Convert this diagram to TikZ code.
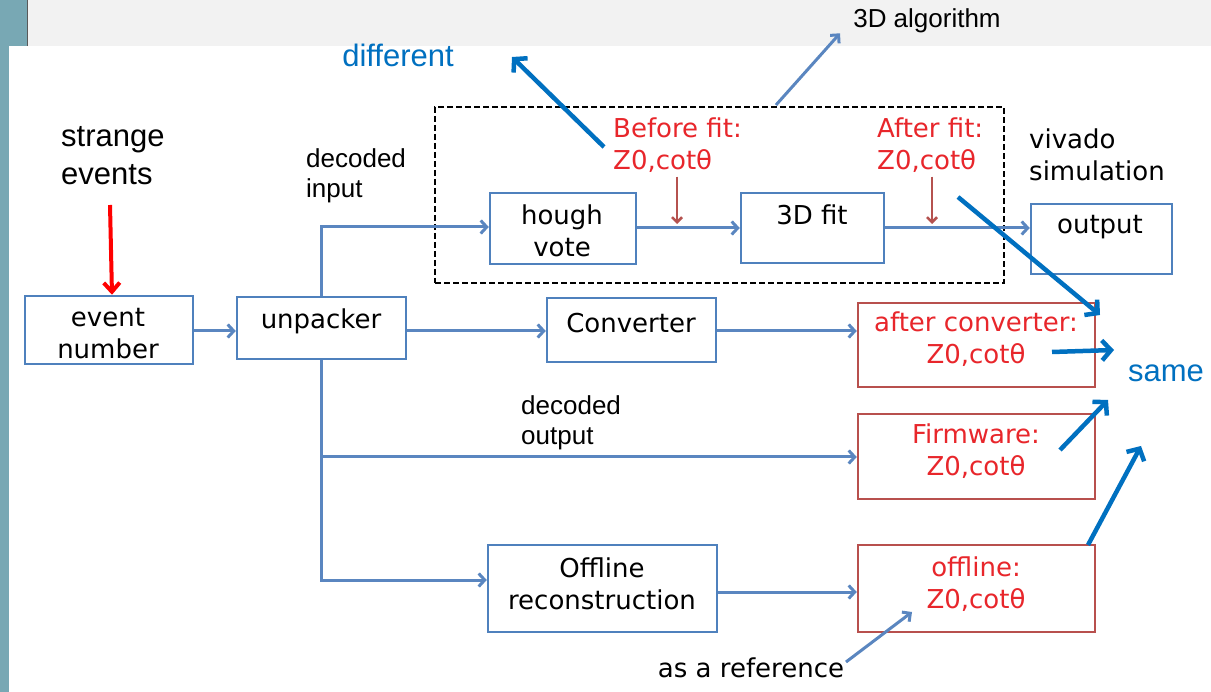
\documentclass[tikz,border=0pt]{standalone}
\usepackage{fontspec}
\usetikzlibrary{arrows.meta}
\newfontfamily\arialf{Liberation Sans}
\newfontfamily\dvf{DejaVu Sans}
\definecolor{sidebar}{HTML}{78A8B4}
\definecolor{topbar}{HTML}{F2F2F2}
\definecolor{boxblue}{HTML}{4F81BD}
\definecolor{linkblue}{HTML}{5A86C0}
\definecolor{callblue}{HTML}{0070C0}
\definecolor{boxred}{HTML}{B8504D}
\definecolor{txtred}{HTML}{E8262B}
\definecolor{tickred}{HTML}{B5524F}
\begin{document}
\begin{tikzpicture}[x=1pt,y=-1pt,
  bbox/.style={draw=boxblue, line width=2.5pt, inner sep=0pt},
  rbox/.style={draw=boxred, line width=2.5pt, inner sep=0pt},
  conn/.style={draw=linkblue, line width=3pt, -{Straight Barb[length=6pt,width=13pt]}},
  callout/.style={draw=callblue, line width=4.5pt, -{Straight Barb[length=9pt,width=20pt]}},
  tick/.style={draw=tickred, line width=2.5pt, -{Straight Barb[length=5pt,width=10pt]}},
  boxtext/.style={font=\dvf\fontsize{26pt}{32pt}\selectfont, align=center, inner sep=0pt},
  redtext/.style={boxtext, text=txtred},
  plain/.style={font=\arialf\fontsize{26pt}{30pt}\selectfont, inner sep=0pt},
  big/.style={font=\arialf\fontsize{31pt}{38pt}\selectfont, inner sep=0pt}]

% page frame
\useasboundingbox (0,0) rectangle (1211,692);
\fill[white] (0,0) rectangle (1211,692);
\fill[sidebar] (0,0) rectangle (9,692);
\fill[sidebar] (0,0) rectangle (27,46);
\fill[topbar] (28,0) rectangle (1211,46);
\draw[black!65, line width=1.5pt] (27.5,0) -- (27.5,46);

% header text
\node[plain] (alg) at (927,21) {3D algorithm};

% dashed group around the fitting stage
\node[draw=black, line width=2.2pt, dash pattern=on 6pt off 3pt,
      minimum width=569pt, minimum height=176pt] (grp) at (719.5,195) {};

% blocks
\node[bbox, minimum width=168pt, minimum height=68pt] (ev) at (109,330) {};
\node[bbox, minimum width=169pt, minimum height=62pt] (unp) at (321.5,328) {};
\node[bbox, minimum width=146pt, minimum height=71pt] (hough) at (563,228.5) {};
\node[bbox, minimum width=143pt, minimum height=70pt] (fit) at (812.5,228) {};
\node[bbox, minimum width=141pt, minimum height=70pt] (out) at (1101.5,239) {};
\node[bbox, minimum width=169pt, minimum height=64pt] (conv) at (631.5,330) {};
\node[bbox, minimum width=229pt, minimum height=87pt] (reco) at (602.5,588.5) {};
\node[rbox, minimum width=237pt, minimum height=84pt] (aconv) at (976.5,345) {};
\node[rbox, minimum width=237pt, minimum height=85pt] (fw) at (976.5,456.5) {};
\node[rbox, minimum width=237pt, minimum height=87pt] (offl) at (976.5,588.5) {};

% block texts
\node[boxtext] (ev-t) at (108,334) {event\\number};
\node[boxtext] (unp-t) at (321,321) {unpacker};
\node[boxtext] (hough-t) at (562,231) {hough\\vote};
\node[boxtext] (fit-t) at (812,215) {3D fit};
\node[boxtext] (out-t) at (1100,227) {output};
\node[boxtext] (conv-t) at (631,323) {Converter};
\node[boxtext] (reco-t) at (602,584) {Offline\\reconstruction};
\node[redtext] (aconv-t) at (976,339) {after converter:\\Z0,cotθ};
\node[redtext] (fw-t) at (976,451) {Firmware:\\Z0,cotθ};
\node[redtext] (offl-t) at (976,584) {offline:\\Z0,cotθ};

% free labels
\node[big, align=left, anchor=west] (strange) at (61,156) {strange\\events};
\node[plain, align=left, anchor=west] (din) at (306,176) {decoded\\input};
\node[plain, align=left, anchor=west] (dout) at (521,423) {decoded\\output};
\node[boxtext, align=left, anchor=west] (viv) at (1029,155) {vivado\\simulation};
\node[redtext, align=left, anchor=west] (bfit) at (613,145) {Before fit:\\Z0,cotθ};
\node[redtext, align=left, anchor=west] (afit) at (877,145) {After fit:\\Z0,cotθ};
\node[boxtext] (ref) at (751,668) {as a reference};
\node[big, text=callblue] (diff) at (398,55) {different};
\node[big, text=callblue] (same) at (1166,373) {same};

% data flow
\draw[conn] (ev.east |- 0,331) -- (unp.west |- 0,331);
\draw[conn] (unp.north) |- (hough.west |- 0,227);
\draw[conn] (unp.east |- 0,331) -- (conv.west |- 0,331);
\draw[conn] (conv.east |- 0,331) -- (aconv.west |- 0,331);
\draw[conn] (unp.south) |- (fw.west |- 0,457);
\draw[conn] (unp.south) |- (reco.west |- 0,580);
\draw[conn] (hough.east |- 0,228) -- (fit.west |- 0,228);
\draw[conn] (fit.east |- 0,228) -- (out.west |- 0,228);
\draw[conn] (reco.east |- 0,592) -- (offl.west |- 0,592);

% pointers
\coordinate (se) at (110,205);
\draw[draw=red, line width=4pt, -{Straight Barb[length=9pt,width=16pt]}] (se) -- (ev.north -| 112,0);
\draw[tick] (bfit.south -| 677,0) ++(0,4) -- (677,224);
\draw[tick] (afit.south -| 932,0) ++(0,4) -- (932,224);
\coordinate (algfoot) at (776,105);
\draw[draw=linkblue, line width=3pt, -{Straight Barb[length=6pt,width=12pt]}] (algfoot) -- (alg.south -| 840,0);
\coordinate (reffoot) at (846,662);
\draw[draw=linkblue, line width=3pt, -{Straight Barb[length=6pt,width=12pt]}] (reffoot) -- (912,612);

% comparison call-outs
\coordinate (d0) at (604,147);
\coordinate (d1) at (512,57);
\draw[callout] (d0) -- (d1);
\coordinate (s0) at (958,197);
\coordinate (s1) at (1100,315);
\draw[callout] (s0) -- (s1);
\coordinate (s2) at (1052,352);
\coordinate (s3) at (1114,350);
\draw[callout] (s2) -- (s3);
\coordinate (s4) at (1060,450);
\coordinate (s5) at (1108,400);
\draw[callout] (s4) -- (s5);
\coordinate (s6) at (1088,545);
\coordinate (s7) at (1141,446);
\draw[callout] (s6) -- (s7);
\end{tikzpicture}
\end{document}
